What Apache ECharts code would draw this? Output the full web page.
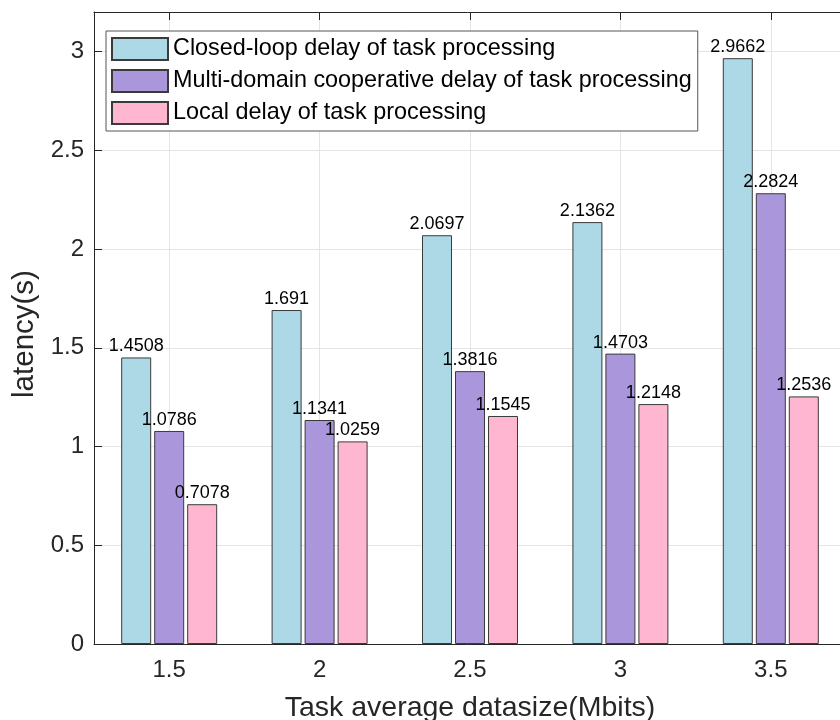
<!DOCTYPE html>
<html>
<head>
<meta charset="utf-8">
<script src="https://cdn.jsdelivr.net/npm/echarts@6/dist/echarts.min.js"></script>
<style>
html,body{margin:0;padding:0;background:#fff;}
#chart{width:840px;height:720px;}
</style>
</head>
<body>
<div id="chart"></div>
<script>
const categories = ['1.5', '2', '2.5', '3', '3.5'];
const closedLoop = [1.4508, 1.691, 2.0697, 2.1362, 2.9662];
const multiDomain = [1.0786, 1.1341, 1.3816, 1.4703, 2.2824];
const localDelay = [0.7078, 1.0259, 1.1545, 1.2148, 1.2536];
const seriesNames = [
  'Closed-loop delay of task processing',
  'Multi-domain cooperative delay of task processing',
  'Local delay of task processing'
];
const colors = ['#ADD8E6', '#AA96DA', '#FFB6D1'];

const FONT = '"Liberation Sans", Arial, Helvetica, sans-serif';
const AX = '#262626';

const chart = echarts.init(document.getElementById('chart'), null, {renderer: 'canvas'});

function barSeries(name, data, color) {
  return {
    name: name,
    type: 'bar',
    data: data,
    barWidth: 30,
    barGap: '10%',
    itemStyle: {color: color, borderColor: '#3a3a3a', borderWidth: 1},
    label: {
      show: true,
      position: 'top',
      distance: 2,
      color: '#000',
      fontFamily: FONT,
      fontSize: 18,
      formatter: function (p) { return String(p.value); }
    },
    emphasis: {disabled: true}
  };
}

chart.setOption({
  backgroundColor: '#fff',
  animation: false,
  textStyle: {fontFamily: FONT},
  grid: {left: 94, top: 12, width: 752, height: 632, containLabel: false, outerBoundsMode: 'none'},
  legend: {
    orient: 'vertical',
    left: 106,
    top: 31,
    padding: [6, 6, 6, 5],
    itemWidth: 56,
    itemHeight: 22,
    itemGap: 8,
    icon: 'rect',
    backgroundColor: '#fff',
    borderColor: '#555',
    borderWidth: 1,
    borderRadius: 0,
    selectedMode: false,
    textStyle: {fontFamily: FONT, fontSize: 23.4, color: '#000', padding: [0, 0, 0, 0]},
    data: seriesNames
  },
  xAxis: [
    {
      type: 'category',
      data: categories,
      position: 'bottom',
      name: 'Task average datasize(Mbits)',
      nameLocation: 'middle',
      nameGap: 50,
      nameTextStyle: {fontFamily: FONT, fontSize: 28.5, color: AX},
      axisLine: {show: true, lineStyle: {color: AX, width: 1}},
      axisTick: {show: true, inside: true, alignWithLabel: true, length: 8, lineStyle: {color: AX}},
      axisLabel: {fontFamily: FONT, fontSize: 24, color: AX, margin: 14},
      splitLine: {show: true, alignWithLabel: true, lineStyle: {color: '#e4e4e4', width: 1}}
    },
    {
      type: 'category',
      data: categories,
      position: 'top',
      axisLine: {show: true, lineStyle: {color: AX, width: 1}},
      axisTick: {show: true, inside: true, alignWithLabel: true, length: 8, lineStyle: {color: AX}},
      axisLabel: {show: false},
      splitLine: {show: false}
    }
  ],
  yAxis: {
    type: 'value',
    min: 0,
    max: 3.2,
    interval: 0.5,
    name: 'latency(s)',
    nameLocation: 'middle',
    nameGap: 52,
    nameTextStyle: {fontFamily: FONT, fontSize: 29.5, color: AX, padding: [0, 12, 0, 0]},
    axisLine: {show: true, lineStyle: {color: AX, width: 1}},
    axisTick: {show: true, inside: true, length: 8, lineStyle: {color: AX}},
    axisLabel: {fontFamily: FONT, fontSize: 24, color: AX, margin: 10, showMaxLabel: false},
    splitLine: {show: true, lineStyle: {color: '#e4e4e4', width: 1}}
  },
  series: [
    barSeries(seriesNames[0], closedLoop, colors[0]),
    barSeries(seriesNames[1], multiDomain, colors[1]),
    barSeries(seriesNames[2], localDelay, colors[2])
  ]
});
</script>
</body>
</html>
